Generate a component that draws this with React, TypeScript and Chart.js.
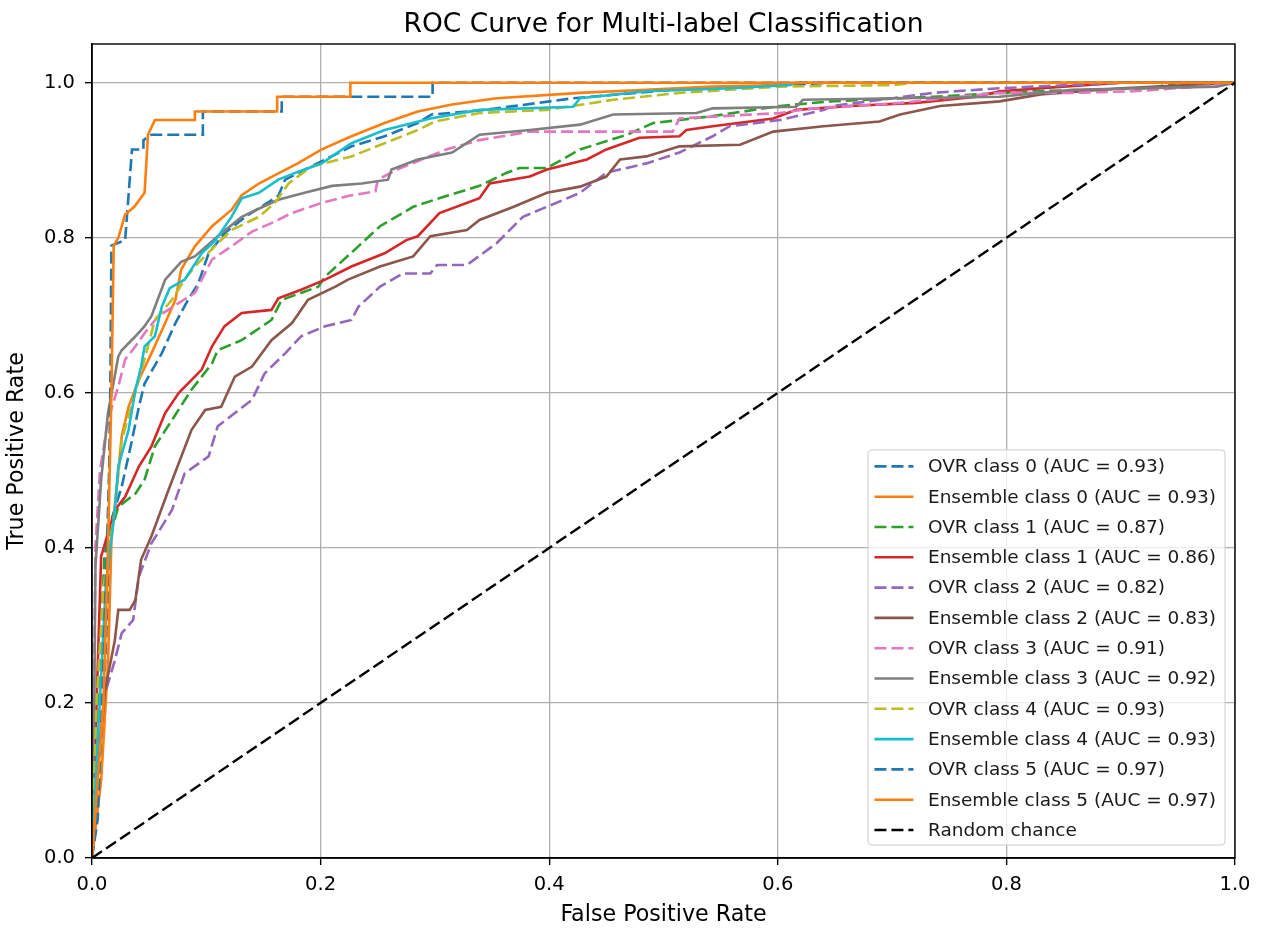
import React, { useEffect, useRef } from 'react';
import { Chart, registerables } from 'chart.js';

Chart.register(...registerables);

const FONT = '"DejaVu Sans", "Liberation Sans", sans-serif';

const chartTitle = 'ROC Curve for Multi-label Classification';
const xAxisTitle = 'False Positive Rate';
const yAxisTitle = 'True Positive Rate';

const xTicks = [0, 0.2, 0.4, 0.6, 0.8, 1.0];
const yTicks = [0, 0.2, 0.4, 0.6, 0.8, 1.0];

const seriesLabels = [
  'OVR class 0 (AUC = 0.93)',
  'Ensemble class 0 (AUC = 0.93)',
  'OVR class 1 (AUC = 0.87)',
  'Ensemble class 1 (AUC = 0.86)',
  'OVR class 2 (AUC = 0.82)',
  'Ensemble class 2 (AUC = 0.83)',
  'OVR class 3 (AUC = 0.91)',
  'Ensemble class 3 (AUC = 0.92)',
  'OVR class 4 (AUC = 0.93)',
  'Ensemble class 4 (AUC = 0.93)',
  'OVR class 5 (AUC = 0.97)',
  'Ensemble class 5 (AUC = 0.97)',
  'Random chance',
];

// [false positive rate, true positive rate]
const ovrClass0: [number, number][] = [
  [0, 0], [0.003, 0.05], [0.01, 0.2], [0.017, 0.436], [0.026, 0.479], [0.035, 0.539],
  [0.041, 0.582], [0.046, 0.612], [0.061, 0.651], [0.073, 0.69], [0.084, 0.72],
  [0.093, 0.741], [0.102, 0.78], [0.116, 0.806], [0.134, 0.827], [0.163, 0.854],
  [0.169, 0.875], [0.204, 0.901], [0.227, 0.918], [0.256, 0.931], [0.285, 0.948],
  [0.297, 0.959], [0.344, 0.965], [0.421, 0.98], [0.5, 0.99], [0.6, 0.997], [0.65, 1], [1, 1],
];

const ensembleClass0: [number, number][] = [
  [0, 0], [0.008, 0.1], [0.014, 0.25], [0.017, 0.41], [0.026, 0.544], [0.032, 0.582],
  [0.041, 0.617], [0.052, 0.651], [0.064, 0.69], [0.073, 0.72], [0.078, 0.759],
  [0.09, 0.789], [0.105, 0.815], [0.122, 0.836], [0.131, 0.855], [0.146, 0.87],
  [0.163, 0.883], [0.18, 0.896], [0.201, 0.914], [0.227, 0.931], [0.256, 0.948],
  [0.285, 0.963], [0.315, 0.972], [0.354, 0.98], [0.427, 0.987], [0.485, 0.991],
  [0.543, 0.995], [0.602, 0.997], [0.62, 1], [1, 1],
];

const ovrClass1: [number, number][] = [
  [0, 0], [0.005, 0.2], [0.011, 0.393], [0.023, 0.453], [0.038, 0.47], [0.046, 0.488],
  [0.055, 0.531], [0.07, 0.565], [0.087, 0.604], [0.105, 0.638], [0.11, 0.655],
  [0.131, 0.668], [0.157, 0.694], [0.166, 0.72], [0.198, 0.737], [0.204, 0.75],
  [0.233, 0.789], [0.252, 0.815], [0.281, 0.84], [0.31, 0.854], [0.339, 0.867],
  [0.363, 0.884], [0.374, 0.89], [0.398, 0.89], [0.427, 0.914], [0.468, 0.933],
  [0.491, 0.948], [0.514, 0.952], [0.543, 0.957], [0.602, 0.97], [0.646, 0.976],
  [0.736, 0.982], [0.823, 0.989], [0.926, 0.993], [0.95, 1], [1, 1],
];

const ensembleClass1: [number, number][] = [
  [0, 0], [0.004, 0.2], [0.008, 0.389], [0.02, 0.449], [0.029, 0.466], [0.041, 0.505],
  [0.052, 0.531], [0.064, 0.574], [0.076, 0.6], [0.096, 0.63], [0.105, 0.66],
  [0.116, 0.686], [0.131, 0.703], [0.157, 0.707], [0.163, 0.722], [0.183, 0.733],
  [0.204, 0.746], [0.227, 0.763], [0.256, 0.78], [0.275, 0.797], [0.285, 0.802],
  [0.304, 0.832], [0.339, 0.851], [0.348, 0.87], [0.383, 0.879], [0.398, 0.888],
  [0.433, 0.901], [0.45, 0.914], [0.479, 0.929], [0.514, 0.931], [0.52, 0.939],
  [0.543, 0.944], [0.596, 0.954], [0.616, 0.965], [0.663, 0.97], [0.721, 0.974],
  [0.774, 0.982], [0.794, 0.989], [0.85, 0.995], [0.9, 1], [1, 1],
];

const ovrClass2: [number, number][] = [
  [0, 0], [0.005, 0.1], [0.011, 0.21], [0.02, 0.255], [0.026, 0.29], [0.036, 0.307],
  [0.041, 0.363], [0.052, 0.406], [0.07, 0.449], [0.081, 0.496], [0.102, 0.518],
  [0.11, 0.557], [0.125, 0.574], [0.14, 0.591], [0.151, 0.625], [0.169, 0.651],
  [0.183, 0.673], [0.204, 0.686], [0.227, 0.694], [0.233, 0.711], [0.252, 0.737],
  [0.272, 0.754], [0.296, 0.754], [0.302, 0.765], [0.328, 0.765], [0.354, 0.793],
  [0.377, 0.827], [0.398, 0.84], [0.427, 0.858], [0.45, 0.884], [0.485, 0.896],
  [0.514, 0.91], [0.543, 0.931], [0.558, 0.944], [0.602, 0.952], [0.64, 0.965],
  [0.648, 0.97], [0.736, 0.987], [0.794, 0.993], [0.9, 1], [1, 1],
];

const ensembleClass2: [number, number][] = [
  [0, 0], [0.003, 0.084], [0.011, 0.213], [0.02, 0.281], [0.023, 0.32], [0.033, 0.32],
  [0.038, 0.333], [0.043, 0.385], [0.052, 0.415], [0.067, 0.475], [0.087, 0.552],
  [0.099, 0.578], [0.113, 0.582], [0.125, 0.621], [0.14, 0.634], [0.157, 0.668],
  [0.175, 0.69], [0.189, 0.72], [0.213, 0.737], [0.224, 0.746], [0.252, 0.763],
  [0.281, 0.776], [0.296, 0.802], [0.328, 0.81], [0.339, 0.823], [0.369, 0.84],
  [0.398, 0.858], [0.427, 0.866], [0.45, 0.879], [0.462, 0.901], [0.485, 0.905],
  [0.514, 0.918], [0.567, 0.92], [0.596, 0.937], [0.64, 0.944], [0.689, 0.95],
  [0.707, 0.959], [0.742, 0.97], [0.794, 0.976], [0.83, 0.985], [0.9, 0.993], [1, 1],
];

const ovrClass3: [number, number][] = [
  [0, 0], [0.002, 0.25], [0.003, 0.402], [0.007, 0.5], [0.014, 0.565], [0.023, 0.608],
  [0.029, 0.643], [0.038, 0.66], [0.046, 0.677], [0.058, 0.699], [0.076, 0.716],
  [0.09, 0.729], [0.096, 0.746], [0.105, 0.772], [0.122, 0.789], [0.14, 0.808],
  [0.157, 0.819], [0.175, 0.832], [0.201, 0.845], [0.224, 0.854], [0.248, 0.86],
  [0.25, 0.875], [0.267, 0.888], [0.31, 0.914], [0.339, 0.926], [0.383, 0.937],
  [0.508, 0.937], [0.514, 0.954], [0.602, 0.961], [0.631, 0.967], [0.707, 0.974],
  [0.794, 0.987], [0.858, 0.987], [0.911, 0.989], [0.969, 0.995], [1, 1],
];

const ensembleClass3: [number, number][] = [
  [0, 0], [0.002, 0.2], [0.003, 0.376], [0.008, 0.488], [0.014, 0.574], [0.023, 0.647],
  [0.026, 0.655], [0.038, 0.673], [0.046, 0.686], [0.052, 0.699], [0.064, 0.746],
  [0.078, 0.769], [0.09, 0.776], [0.11, 0.802], [0.131, 0.827], [0.151, 0.841],
  [0.163, 0.849], [0.186, 0.858], [0.21, 0.867], [0.236, 0.87], [0.259, 0.875],
  [0.262, 0.888], [0.285, 0.901], [0.315, 0.91], [0.339, 0.933], [0.383, 0.939],
  [0.427, 0.946], [0.456, 0.959], [0.529, 0.961], [0.543, 0.967], [0.616, 0.969],
  [0.622, 0.978], [0.794, 0.982], [0.858, 0.991], [0.984, 0.995], [1, 1],
];

const ovrClass4: [number, number][] = [
  [0, 0], [0.004, 0.2], [0.01, 0.35], [0.02, 0.45], [0.026, 0.539], [0.041, 0.617],
  [0.049, 0.66], [0.055, 0.694], [0.07, 0.72], [0.081, 0.746], [0.09, 0.763],
  [0.11, 0.793], [0.122, 0.81], [0.146, 0.827], [0.16, 0.845], [0.172, 0.87],
  [0.192, 0.892], [0.227, 0.905], [0.256, 0.922], [0.285, 0.939], [0.3, 0.95],
  [0.339, 0.961], [0.398, 0.965], [0.456, 0.978], [0.514, 0.987], [0.602, 0.995],
  [0.7, 0.997], [0.72, 1], [1, 1],
];

const ensembleClass4: [number, number][] = [
  [0, 0], [0.005, 0.15], [0.012, 0.35], [0.02, 0.449], [0.023, 0.505], [0.032, 0.552],
  [0.038, 0.604], [0.043, 0.634], [0.046, 0.66], [0.055, 0.673], [0.061, 0.711],
  [0.068, 0.735], [0.081, 0.746], [0.096, 0.78], [0.108, 0.797], [0.122, 0.827],
  [0.131, 0.851], [0.146, 0.858], [0.163, 0.875], [0.18, 0.885], [0.201, 0.896],
  [0.227, 0.922], [0.256, 0.939], [0.296, 0.954], [0.339, 0.965], [0.421, 0.969],
  [0.427, 0.98], [0.485, 0.989], [0.558, 0.993], [0.611, 0.997], [0.615, 1],
];

const ovrClass5: [number, number][] = [
  [0, 0], [0.005, 0.05], [0.01, 0.25], [0.015, 0.5], [0.016, 0.6], [0.017, 0.79],
  [0.029, 0.797], [0.035, 0.914], [0.045, 0.914], [0.045, 0.926], [0.052, 0.933],
  [0.097, 0.933], [0.097, 0.963], [0.166, 0.963], [0.166, 0.982], [0.298, 0.982],
  [0.298, 1], [1, 1],
];

const ensembleClass5: [number, number][] = [
  [0, 0], [0.01, 0.2], [0.014, 0.4], [0.017, 0.6], [0.019, 0.79], [0.023, 0.8],
  [0.029, 0.83], [0.037, 0.84], [0.046, 0.858], [0.049, 0.933], [0.055, 0.952],
  [0.09, 0.952], [0.09, 0.963], [0.162, 0.963], [0.162, 0.982], [0.226, 0.982],
  [0.226, 1], [1, 1],
];

const randomChance: [number, number][] = [[0, 0], [1, 1]];

const curves = [
  ovrClass0, ensembleClass0, ovrClass1, ensembleClass1, ovrClass2, ensembleClass2,
  ovrClass3, ensembleClass3, ovrClass4, ensembleClass4, ovrClass5, ensembleClass5,
  randomChance,
];

const seriesColors = [
  '#1f77b4', '#ff7f0e', '#2ca02c', '#d62728', '#9467bd', '#8c564b',
  '#e377c2', '#7f7f7f', '#bcbd22', '#17becf', '#1f77b4', '#ff7f0e', '#000000',
];

const seriesDashed = [
  true, false, true, false, true, false, true, false, true, false, true, false, true,
];

const LINE_W = 2.6;
const DASH = [12, 5];

const framePlugin = {
  id: 'frameAndLegend',
  afterDatasetsDraw(chart: any) {
    const { ctx, chartArea: a } = chart;
    ctx.save();
    // axes frame (all four spines)
    ctx.strokeStyle = '#000';
    ctx.lineWidth = 1.4;
    ctx.setLineDash([]);
    ctx.strokeRect(a.left, a.top, a.right - a.left, a.bottom - a.top);

    // title centred over the axes
    ctx.font = `26.5px ${FONT}`;
    ctx.fillStyle = '#000';
    ctx.textAlign = 'center';
    ctx.textBaseline = 'alphabetic';
    ctx.fillText(chartTitle, (a.left + a.right) / 2, a.top - 12);

    // legend box, lower right
    const fs = 18.5;
    ctx.font = `${fs}px ${FONT}`;
    const textW = Math.max(...seriesLabels.map((t) => ctx.measureText(t).width));
    const padL = 6.5;
    const handleLen = 39;
    const handleGap = 14.5;
    const padR = 9;
    const rowH = 30.3;
    const padT = 16.5;
    const padB = 15;
    const n = seriesLabels.length;
    const boxW = padL + handleLen + handleGap + textW + padR;
    const boxH = padT + rowH * (n - 1) + padB;
    const right = a.right - 10;
    const bottom = a.bottom - 13;
    const left = right - boxW;
    const top = bottom - boxH;
    const r = 4;
    ctx.beginPath();
    ctx.moveTo(left + r, top);
    ctx.lineTo(right - r, top);
    ctx.arcTo(right, top, right, top + r, r);
    ctx.lineTo(right, bottom - r);
    ctx.arcTo(right, bottom, right - r, bottom, r);
    ctx.lineTo(left + r, bottom);
    ctx.arcTo(left, bottom, left, bottom - r, r);
    ctx.lineTo(left, top + r);
    ctx.arcTo(left, top, left + r, top, r);
    ctx.closePath();
    ctx.fillStyle = 'rgba(255,255,255,0.8)';
    ctx.fill();
    ctx.strokeStyle = '#cccccc';
    ctx.lineWidth = 1;
    ctx.stroke();

    ctx.textBaseline = 'middle';
    ctx.textAlign = 'left';
    for (let i = 0; i < n; i++) {
      const y = top + padT + i * rowH;
      ctx.beginPath();
      ctx.strokeStyle = seriesColors[i];
      ctx.lineWidth = LINE_W;
      ctx.setLineDash(seriesDashed[i] ? DASH : []);
      ctx.moveTo(left + padL, y);
      ctx.lineTo(left + padL + handleLen, y);
      ctx.stroke();
      ctx.setLineDash([]);
      ctx.fillStyle = '#1a1a1a';
      ctx.fillText(seriesLabels[i], left + padL + handleLen + handleGap, y + 1);
    }
    ctx.restore();
  },
};

export default function App() {
  const canvasRef = useRef<HTMLCanvasElement | null>(null);

  useEffect(() => {
    const canvas = canvasRef.current;
    if (!canvas) return;
    const gridOpts = {
      color: '#b0b0b0',
      lineWidth: 1.3,
      tickColor: '#000',
      tickLength: 7,
      tickWidth: 1.4,
    };
    const chart = new Chart(canvas, {
      type: 'line',
      data: {
        datasets: curves.map((pts, i) => ({
          label: seriesLabels[i],
          data: pts.map(([x, y]) => ({ x, y })),
          borderColor: seriesColors[i],
          backgroundColor: seriesColors[i],
          borderWidth: i === curves.length - 1 ? 2.4 : LINE_W,
          borderDash: seriesDashed[i] ? DASH : [],
          pointRadius: 0,
          pointHoverRadius: 0,
          tension: 0,
          fill: false,
          order: -i,
        })),
      },
      options: {
        responsive: false,
        maintainAspectRatio: false,
        animation: false,
        events: [],
        layout: { padding: { top: 44, right: 30, bottom: 0, left: 0 } },
        plugins: {
          legend: { display: false },
          tooltip: { enabled: false },
          title: { display: false },
        },
        scales: {
          x: {
            type: 'linear',
            min: 0,
            max: 1,
            afterBuildTicks: (s: any) => {
              s.ticks = xTicks.map((v) => ({ value: v }));
            },
            afterFit: (s: any) => {
              s.height = 72;
            },
            ticks: {
              callback: (v: any) => Number(v).toFixed(1),
              color: '#000',
              font: { family: FONT, size: 19.5 },
              padding: 8,
              maxRotation: 0,
              autoSkip: false,
            },
            grid: gridOpts,
            border: { color: '#000', width: 1.4 },
            title: {
              display: true,
              text: xAxisTitle,
              color: '#000',
              font: { family: FONT, size: 22.2 },
              padding: { top: 0, bottom: 1 },
            },
          },
          y: {
            type: 'linear',
            min: 0,
            max: 1.05,
            afterBuildTicks: (s: any) => {
              s.ticks = yTicks.map((v) => ({ value: v }));
            },
            afterFit: (s: any) => {
              s.width = 92;
            },
            ticks: {
              callback: (v: any) => Number(v).toFixed(1),
              color: '#000',
              font: { family: FONT, size: 19.5 },
              padding: 10,
              autoSkip: false,
            },
            grid: gridOpts,
            border: { color: '#000', width: 1.4 },
            title: {
              display: true,
              text: yAxisTitle,
              color: '#000',
              font: { family: FONT, size: 22.2 },
              padding: { top: 3.5, bottom: 0 },
            },
          },
        },
      },
      plugins: [framePlugin],
    } as any);
    return () => chart.destroy();
  }, []);

  return (
    <div style={{ position: 'fixed', left: 0, top: 0, width: 1265, height: 930, background: '#fff' }}>
      <canvas ref={canvasRef} width={1265} height={930} />
    </div>
  );
}
